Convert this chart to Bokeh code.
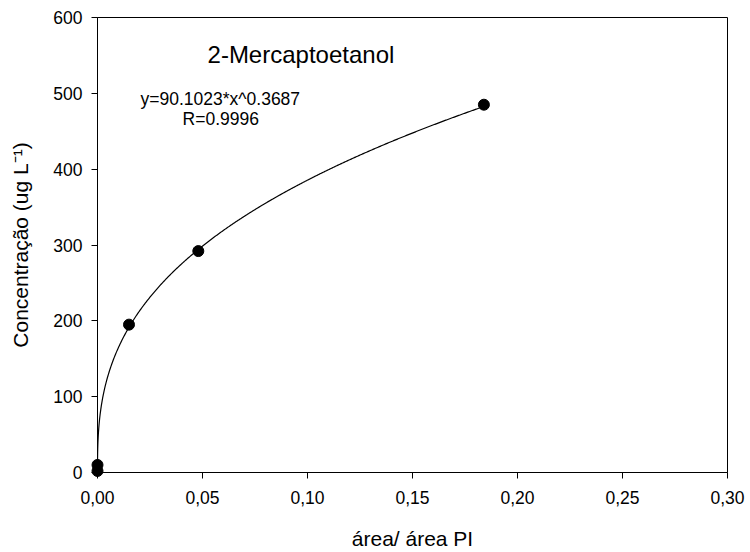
import numpy as np
from bokeh.plotting import figure
from bokeh.models import FixedTicker, Label
from bokeh.embed import file_html
from bokeh.resources import INLINE

# Data
x_pts = [0.0, 0.0, 0.015, 0.048, 0.184]
y_pts = [2, 10, 195, 292, 485]

# Power fit y = a * x^b (curve drawn from the fit parameters)
fit_a = 901.023
fit_b = 0.3687

x_ticks = [0.0, 0.05, 0.10, 0.15, 0.20, 0.25, 0.30]
x_tick_labels = ["0,00", "0,05", "0,10", "0,15", "0,20", "0,25", "0,30"]
y_ticks = [0, 100, 200, 300, 400, 500, 600]

FONT = "Liberation Sans"

p = figure(width=750, height=552, output_backend="svg", toolbar_location=None,
           x_range=(0, 0.30), y_range=(0, 600),
           min_border_left=97, min_border_right=23, min_border_top=17, min_border_bottom=79)

p.background_fill_color = "white"
p.border_fill_color = "white"
p.outline_line_color = "black"
p.outline_line_width = 1
p.grid.visible = False

xc = np.linspace(0, max(x_pts), 600)
xc = np.concatenate([np.linspace(0, 0.001, 200), xc[xc > 0.001]])
yc = fit_a * xc ** fit_b
p.line(xc, yc, line_color="black", line_width=1.2)
p.scatter(x_pts, y_pts, size=11, color="black", level="overlay")

for ax in (p.xaxis[0], p.yaxis[0]):
    ax.axis_line_color = "black"
    ax.major_tick_line_color = "black"
    ax.major_tick_out = 6
    ax.major_tick_in = 0
    ax.minor_tick_line_color = None
    ax.major_label_text_font = FONT
    ax.major_label_text_font_size = "17.5px"
    ax.major_label_text_color = "black"
    ax.axis_label_text_font = FONT
    ax.axis_label_text_font_size = "21px"
    ax.axis_label_text_font_style = "normal"
    ax.axis_label_text_color = "black"

p.xaxis.ticker = FixedTicker(ticks=x_ticks)
p.xaxis.major_label_overrides = {t: l for t, l in zip(x_ticks, x_tick_labels)}
p.xaxis.major_label_standoff = 12
p.xaxis.axis_label = "área/ área PI"
p.xaxis.axis_label_standoff = 20

p.yaxis.ticker = FixedTicker(ticks=y_ticks)
p.yaxis.major_label_standoff = 9
p.yaxis.axis_label = "Concentração (ug L⁻¹)"
p.yaxis.axis_label_standoff = 18

p.add_layout(Label(x=0.0524, y=551, text="2-Mercaptoetanol", text_font=FONT,
                   text_font_size="24px", text_baseline="middle", text_color="black"))
p.add_layout(Label(x=0.0205, y=493, text="y=90.1023*x^0.3687", text_font=FONT,
                   text_font_size="17.5px", text_baseline="middle", text_color="black"))
p.add_layout(Label(x=0.0405, y=466, text="R=0.9996", text_font=FONT,
                   text_font_size="17.5px", text_baseline="middle", text_color="black"))

open("out.html", "w").write(file_html(p, INLINE))
